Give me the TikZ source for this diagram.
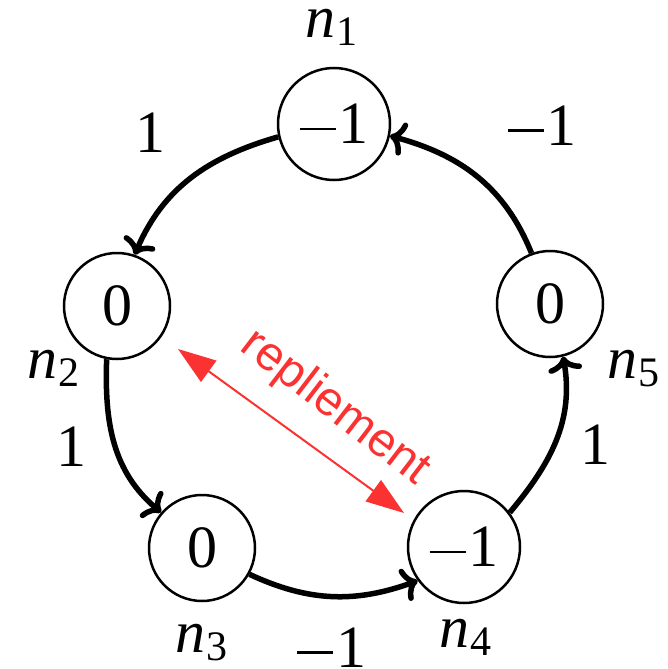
\documentclass[tikz,border=0pt]{standalone}
\usepackage{fontspec}
\setmainfont{Liberation Serif}
\newfontfamily\redsans{Liberation Sans}
\usetikzlibrary{arrows.meta}
\definecolor{folred}{RGB}{250,50,50}
\newcommand{\nsub}[1]{{\itshape n}\kern1pt\raisebox{-8pt}{\fontsize{42}{42}\selectfont #1}}
\newcommand{\mmin}{\rule[13.5pt]{36pt}{2.6pt}\kern3pt}
\begin{document}
\begin{tikzpicture}[x=1pt,y=1pt,
 state/.style={circle,draw,line width=2.5pt,minimum size=106pt,inner sep=0pt,font=\fontsize{60}{60}\selectfont},
 wide/.style={minimum size=112pt},
 lab/.style={inner sep=0pt,anchor=base,font=\fontsize{60}{60}\selectfont},
 flow/.style={-{Computer Modern Rightarrow[length=15pt,width=34pt]},line width=5.5pt},
 fold/.style={{Triangle[length=38pt,width=26pt]}-{Triangle[length=38pt,width=26pt]},line width=2pt,draw=folred,fill=folred}]
\useasboundingbox (0,0) rectangle (668,-669);
\node[state,wide] (n1) at (334,-124) {\mmin 1};
\node[state] (n2) at (117,-306) {0};
\node[state] (n3) at (202,-548) {0};
\node[state,wide] (n4) at (464,-547) {\mmin 1};
\node[state] (n5) at (550,-304) {0};
\draw[flow] (n1.193) to[out=196,in=67] (n2.71);
\draw[flow] (n2.259) to[out=268,in=140] (n3.139);
\draw[flow] (n3.-29) to[out=-25,in=200] (n4.216);
\draw[flow] (n4.37) to[out=50,in=280] (n5.284);
\draw[flow] (n5.110) to[out=112,in=-15] (n1.-12);
\node[lab] (l1) at (150,-152) {1};
\node[lab] (l5) at (542,-145) {\mmin 1};
\node[lab] (l2) at (71.5,-466) {1};
\node[lab] (l4) at (595.5,-464) {1};
\node[lab] (l3) at (331.5,-667) {\mmin 1};
\node[lab] (t1) at (331,-37.6) {\nsub{1}};
\node[lab] (t2) at (53.5,-378) {\nsub{2}};
\node[lab] (t5) at (633.5,-378) {\nsub{5}};
\node[lab] (t3) at (201,-652) {\nsub{3}};
\node[lab] (t4) at (465.5,-647) {\nsub{4}};
\coordinate (fa) at (178,-349);
\coordinate (fb) at (404,-513);
\draw[fold] (fa) -- (fb);
\node[rotate=-37.5,text=folred,font=\redsans\fontsize{48}{48}\selectfont,inner sep=0pt] (rep) at (335,-408) {repliement};
\end{tikzpicture}
\end{document}
